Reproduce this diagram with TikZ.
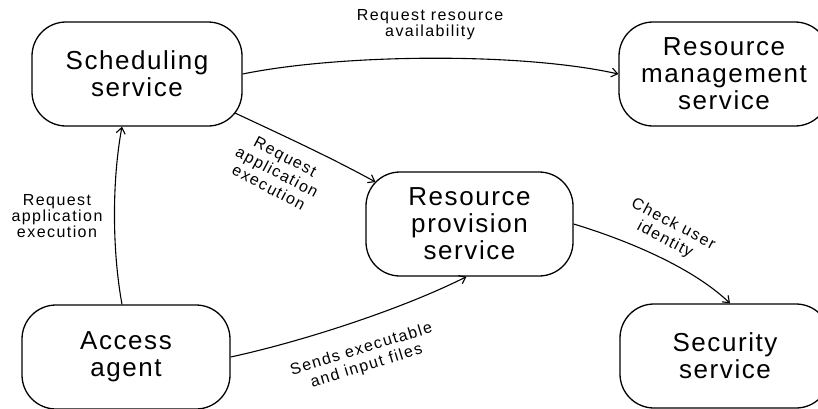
\documentclass[tikz,border=0pt]{standalone}
\usepackage{fontspec}
\setmainfont{Liberation Sans}
\newfontfamily\boxfont[LetterSpace=6]{Liberation Sans}
\newfontfamily\labfont[LetterSpace=9]{Liberation Sans}
\usetikzlibrary{arrows.meta,calc}

\begin{document}
\begin{tikzpicture}[x=1pt,y=-1pt,
  svc/.style={draw, line width=1.3pt, rounded corners=34pt,
    minimum width=210pt, minimum height=104pt, inner sep=0pt,
    align=center, font=\boxfont\fontsize{26}{27}\selectfont},
  flow/.style={line width=1.1pt, -{Straight Barb[length=6pt,width=9pt]}},
  lab/.style={align=center, inner sep=0pt,
    font=\labfont\fontsize{16}{16}\selectfont},
  tiltlab/.style={lab, font=\labfont\fontsize{16}{17.5}\selectfont}]
\useasboundingbox (0,0) rectangle (818,408);
\clip (0,0) rectangle (818,408);

% services
\node[svc] (sched) at (137,74) {Scheduling\\service};
\node[svc] (rm) at (724,74) {Resource\\management\\service};
\node[svc, minimum width=207pt] (rp) at (469.5,224) {Resource\\provision\\service};
\node[svc, minimum width=208pt] (access) at (126,357) {Access\\agent};
\node[svc] (sec) at (725,356) {Security\\service};

% interactions
\draw[flow] (sched.east) .. controls (340,54) and (520,52) .. (rm.west);
\draw[flow] ($(sched.center)+(98,39)$) .. controls (282,135) and (330,157) .. ($(rp.center)+(-94,-42)$);
\draw[flow] ($(access.north)+(-4,0)$) .. controls (112,250) and (112,180) .. ($(sched.south)+(-15,0)$);
\draw[flow] (access.east) .. controls (300,342) and (400,310) .. ($(rp.south)+(-3,0)$);
\draw[flow] (rp.east) .. controls (620,238) and (690,265) .. ($(sec.north)+(5,0)$);

% labels
\node[lab] (l1) at (430,25) {Request resource\\availability};
\node[lab] (l2) at (57,216) {Request\\application\\execution};
\node[tiltlab, rotate=-28] (l3) at (277,172) {Request\\application\\execution};
\node[tiltlab, rotate=17] (l4) at (364,358) {Sends executable\\and input files};
\node[tiltlab, rotate=-28] (l5) at (669,232) {Check user\\identity};
\end{tikzpicture}
\end{document}
